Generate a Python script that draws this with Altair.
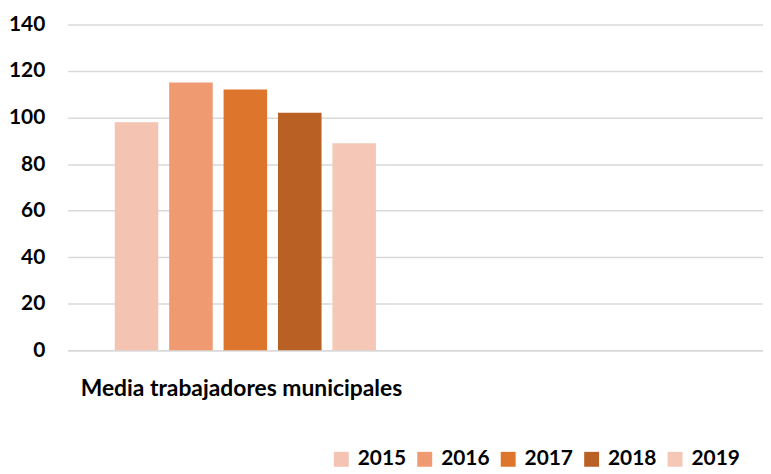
import altair as alt
import pandas as pd

categories = ["Media trabajadores municipales", " "]
years = ["2015", "2016", "2017", "2018", "2019"]
values = [98, 115, 112, 102, 89]
colors = ["#F4C3B1", "#F09A72", "#DE752D", "#B96125", "#F5C7B7"]

df = pd.DataFrame({
    "cat": [categories[0]] * len(years),
    "year": years,
    "value": values,
})

FONT = "Lato, sans-serif"

chart = alt.Chart(df).mark_bar().encode(
    x=alt.X("cat:N", scale=alt.Scale(domain=categories, paddingInner=0, paddingOuter=0),
            axis=alt.Axis(title=None, labelAngle=0, ticks=False, domain=True, domainColor="#d9d9d9",
                          domainWidth=1.5, labelFontSize=23, labelFontWeight="bold", labelFont=FONT,
                          labelColor="#000000", labelPadding=28, labelLimit=0)),
    xOffset=alt.XOffset("year:N", scale=alt.Scale(paddingInner=0.2, paddingOuter=0.795, align=0.545)),
    y=alt.Y("value:Q", scale=alt.Scale(domain=[0, 140], nice=False),
            axis=alt.Axis(title=None, values=[0, 20, 40, 60, 80, 100, 120, 140], ticks=False, domain=False,
                          gridColor="#d9d9d9", gridWidth=1.5, labelFontSize=21, labelFontWeight="bold",
                          labelFont=FONT, labelColor="#000000", labelPadding=23)),
    color=alt.Color("year:N", scale=alt.Scale(domain=years, range=colors),
                    legend=alt.Legend(title=None, orient="none", legendX=265, legendY=427,
                                      direction="horizontal", symbolType="square", symbolSize=225,
                                      symbolStrokeWidth=0, labelFontSize=21, labelFontWeight="bold",
                                      labelFont=FONT, labelColor="#000000", labelOffset=6,
                                      columnPadding=8)),
).properties(
    width=700,
    height=328,
    autosize=alt.AutoSizeParams(type="none"),
    padding={"left": 60, "top": 15, "right": 0, "bottom": 122},
).configure_view(stroke=None)

chart.save("out.html", embed_options={"renderer": "svg", "actions": False})
